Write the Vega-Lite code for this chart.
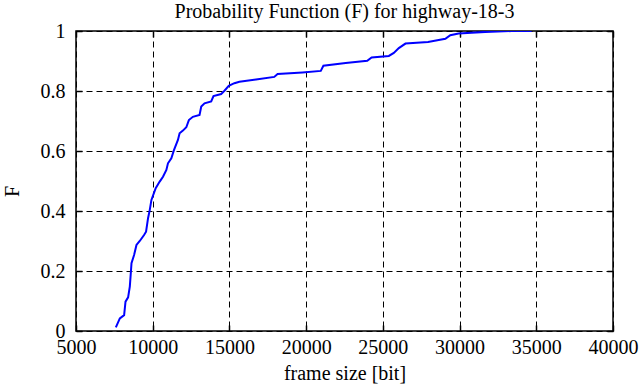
{
  "$schema": "https://vega.github.io/schema/vega-lite/v6.json",
  "width": 537,
  "height": 300,
  "autosize": {"type": "none"},
  "padding": {"left": 76, "top": 31, "right": 26, "bottom": 56},
  "background": "white",
  "config": {
    "font": "Liberation Serif",
    "view": {"stroke": "black", "strokeWidth": 1.5},
    "axis": {"labelFont": "Liberation Serif", "titleFont": "Liberation Serif", "labelColor": "black", "titleColor": "black", "titleFontWeight": "normal"}
  },
  "title": {"text": "Probability Function (F) for highway-18-3", "font": "Liberation Serif", "fontSize": 20, "fontWeight": "normal", "color": "black", "frame": "group", "offset": -1, "anchor": "middle"},
  "data": {"values": [
    {"size": 7597, "F": 0.012}, {"size": 7857, "F": 0.042}, {"size": 8137, "F": 0.053}, {"size": 8227, "F": 0.098},
    {"size": 8396, "F": 0.112}, {"size": 8507, "F": 0.148}, {"size": 8571, "F": 0.192}, {"size": 8617, "F": 0.226},
    {"size": 8786, "F": 0.253}, {"size": 8941, "F": 0.287}, {"size": 9156, "F": 0.300}, {"size": 9436, "F": 0.320},
    {"size": 9566, "F": 0.331}, {"size": 9696, "F": 0.376}, {"size": 9805, "F": 0.403}, {"size": 9916, "F": 0.437},
    {"size": 10195, "F": 0.476}, {"size": 10455, "F": 0.498}, {"size": 10670, "F": 0.514}, {"size": 10890, "F": 0.537},
    {"size": 10994, "F": 0.559}, {"size": 11214, "F": 0.576}, {"size": 11384, "F": 0.603}, {"size": 11643, "F": 0.637},
    {"size": 11753, "F": 0.659}, {"size": 11968, "F": 0.668}, {"size": 12189, "F": 0.679}, {"size": 12357, "F": 0.703},
    {"size": 12617, "F": 0.714}, {"size": 13053, "F": 0.720}, {"size": 13163, "F": 0.748}, {"size": 13377, "F": 0.759},
    {"size": 13812, "F": 0.765}, {"size": 13961, "F": 0.783}, {"size": 14462, "F": 0.790}, {"size": 14676, "F": 0.801},
    {"size": 14955, "F": 0.817}, {"size": 15325, "F": 0.826}, {"size": 15650, "F": 0.831}, {"size": 16734, "F": 0.838},
    {"size": 17923, "F": 0.847}, {"size": 18140, "F": 0.857}, {"size": 19762, "F": 0.862}, {"size": 20955, "F": 0.867},
    {"size": 21124, "F": 0.884}, {"size": 22579, "F": 0.893}, {"size": 23982, "F": 0.901}, {"size": 24268, "F": 0.912},
    {"size": 25390, "F": 0.917}, {"size": 25714, "F": 0.927}, {"size": 26040, "F": 0.943}, {"size": 26474, "F": 0.958},
    {"size": 27944, "F": 0.963}, {"size": 28640, "F": 0.970}, {"size": 29073, "F": 0.974}, {"size": 29397, "F": 0.986},
    {"size": 29935, "F": 0.992}, {"size": 31667, "F": 0.997}, {"size": 33400, "F": 1.0}, {"size": 34700, "F": 1.0}
  ]},
  "layer": [
    {
      "mark": {"type": "line", "color": "#0000ff", "strokeWidth": 2, "clip": true},
      "encoding": {
        "x": {"field": "size", "type": "quantitative", "scale": {"domain": [5000, 40000], "nice": false, "zero": false},
          "axis": {"title": "frame size [bit]", "values": [5000, 10000, 15000, 20000, 25000, 30000, 35000, 40000], "format": "d",
            "labelFont": "Liberation Serif", "titleFont": "Liberation Serif",
            "labelFontSize": 20, "titleFontSize": 20, "domain": false, "tickSize": -6, "tickColor": "black", "tickWidth": 1.5,
            "labelPadding": 12, "titlePadding": 6, "grid": true, "gridColor": "black", "gridDash": [6, 4], "gridWidth": 1, "gridOpacity": 1, "labelFlush": false}},
        "y": {"field": "F", "type": "quantitative", "scale": {"domain": [0, 1], "nice": false},
          "axis": {"title": "F", "values": [0, 0.2, 0.4, 0.6, 0.8, 1], "format": ".1~f",
            "labelFont": "Liberation Serif", "titleFont": "Liberation Serif",
            "labelFontSize": 20, "titleFontSize": 20, "domain": false, "tickSize": -6, "tickColor": "black", "tickWidth": 1.5,
            "labelPadding": 17, "grid": true, "gridColor": "black", "gridDash": [6, 4], "gridWidth": 1, "gridOpacity": 1, "labelFlush": false,
            "titleX": -64, "titleY": 160, "titleBaseline": "middle", "titleAngle": -90}}
      }
    },
    {
      "mark": {"type": "point", "opacity": 0},
      "encoding": {
        "x": {"field": "size", "type": "quantitative",
          "axis": {"orient": "top", "title": null, "labels": false, "values": [5000, 10000, 15000, 20000, 25000, 30000, 35000, 40000],
            "domain": false, "tickSize": -6, "tickColor": "black", "tickWidth": 1.5, "grid": false}},
        "y": {"field": "F", "type": "quantitative",
          "axis": {"orient": "right", "title": null, "labels": false, "values": [0, 0.2, 0.4, 0.6, 0.8, 1],
            "domain": false, "tickSize": -6, "tickColor": "black", "tickWidth": 1.5, "grid": false}}
      }
    }
  ],
  "resolve": {"axis": {"x": "independent", "y": "independent"}}
}
